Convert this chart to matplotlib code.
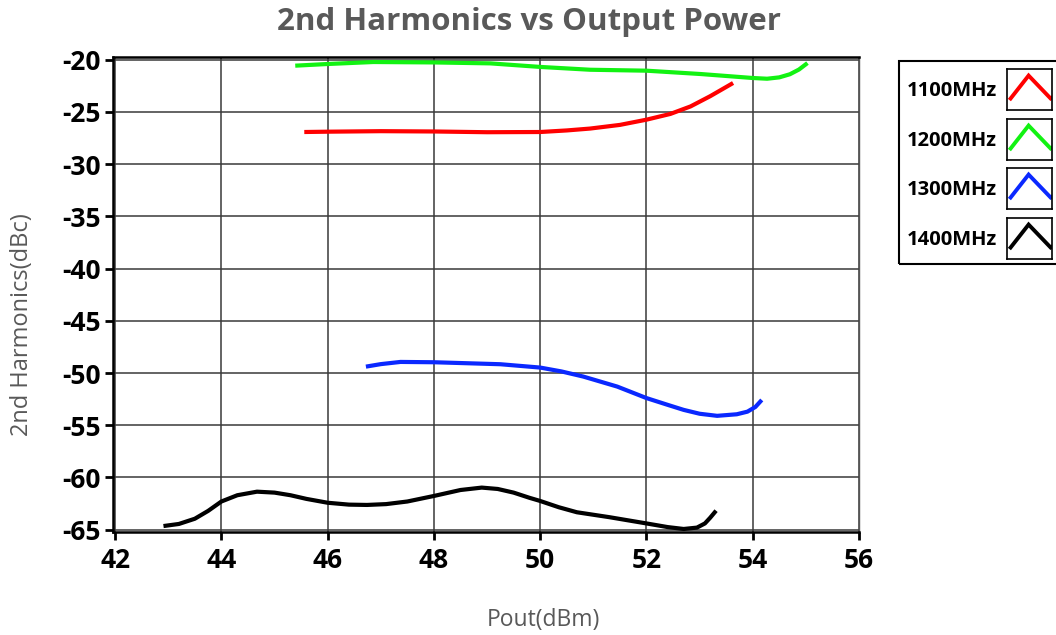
import matplotlib
matplotlib.use("Agg")
import matplotlib.pyplot as plt
from matplotlib.patches import Rectangle

# ---- data ----
labels = ["1100MHz", "1200MHz", "1300MHz", "1400MHz"]
colors = ["#ff0000", "#12f212", "#0a28ff", "#000000"]

x_1100 = [45.56, 46.0, 47.0, 48.0, 49.0, 50.0, 50.5, 50.94, 51.5, 52.0, 52.45, 52.83, 53.2, 53.63]
y_1100 = [-26.93, -26.9, -26.85, -26.88, -26.95, -26.93, -26.78, -26.6, -26.25, -25.75, -25.2, -24.48, -23.5, -22.24]

x_1200 = [45.39, 46.0, 46.86, 48.0, 49.06, 50.0, 50.94, 52.0, 53.02, 54.0, 54.27, 54.5, 54.7, 54.87, 55.03]
y_1200 = [-20.58, -20.42, -20.23, -20.27, -20.36, -20.7, -20.97, -21.06, -21.38, -21.76, -21.83, -21.7, -21.4, -20.95, -20.33]

x_1300 = [46.72, 47.0, 47.37, 48.0, 49.25, 50.0, 50.4, 50.81, 51.45, 52.0, 52.4, 52.7, 53.0, 53.33, 53.7, 53.9, 54.05, 54.17]
y_1300 = [-49.39, -49.15, -48.94, -48.97, -49.16, -49.48, -49.85, -50.34, -51.3, -52.4, -53.05, -53.53, -53.9, -54.1, -53.95, -53.7, -53.25, -52.58]

x_1400 = [42.91, 43.2, 43.5, 43.75, 44.0, 44.3, 44.67, 45.0, 45.3, 45.6, 46.0, 46.4, 46.74, 47.1, 47.5, 48.0, 48.5, 48.9, 49.2, 49.5, 49.8, 50.0, 50.35, 50.69, 51.3, 52.0, 52.4, 52.7, 52.95, 53.1, 53.2, 53.31]
y_1400 = [-64.65, -64.45, -63.95, -63.2, -62.3, -61.7, -61.36, -61.45, -61.7, -62.05, -62.42, -62.6, -62.63, -62.55, -62.3, -61.77, -61.2, -60.97, -61.1, -61.45, -61.95, -62.25, -62.85, -63.33, -63.8, -64.4, -64.75, -64.93, -64.8, -64.4, -63.85, -63.18]

xs = [x_1100, x_1200, x_1300, x_1400]
ys = [y_1100, y_1200, y_1300, y_1400]

x_ticks = [42, 44, 46, 48, 50, 52, 54, 56]
y_ticks = [-20, -25, -30, -35, -40, -45, -50, -55, -60, -65]

title = "2nd Harmonics vs Output Power"
xlabel = "Pout(dBm)"
ylabel = "2nd Harmonics(dBc)"

# ---- figure ----
plt.rcParams["font.family"] = ["Open Sans", "DejaVu Sans"]
fig = plt.figure(figsize=(10.56, 6.35), dpi=100)
W, H = 1056, 635
ax = fig.add_axes([113 / W, (H - 532) / H, (859 - 113) / W, (532 - 57) / H])

for x, y, c in zip(xs, ys, colors):
    ax.plot(x, y, color=c, lw=3.0, solid_capstyle="butt", solid_joinstyle="round", zorder=3)

ax.set_xlim(41.96, 56.0)
ax.set_ylim(-65.22, -19.75)
ax.set_xticks(x_ticks)
ax.set_yticks(y_ticks)
ax.set_xticklabels([str(t) for t in x_ticks], fontsize=19, fontweight="bold")
ax.set_yticklabels([str(t) for t in y_ticks], fontsize=19, fontweight="bold")
ax.tick_params(axis="both", direction="out", length=6, width=2, color="black", pad=3)
ax.tick_params(axis="x", pad=5)
ax.grid(True, color="#3a3a3a", lw=1.3, alpha=0.85)
ax.set_axisbelow(True)
for s in ax.spines.values():
    s.set_linewidth(1.8)
    s.set_color("black")
ax.spines["right"].set_linewidth(1.0)
ax.spines["right"].set_color("#555555")

fig.text(529 / W, 1 - 22 / H, title, ha="center", va="center", fontsize=22.5,
         fontweight="bold", color="#595959")
fig.text(543 / W, 1 - 620 / H, xlabel, ha="center", va="center", fontsize=16.5, color="#595959")
fig.text(22 / W, 1 - 325 / H, ylabel, ha="center", va="center", fontsize=17,
         color="#595959", rotation=90)

# ---- legend ----
fig.patches.append(Rectangle((899 / W, 1 - 264 / H), 200 / W, (264 - 61) / H,
                             transform=fig.transFigure, fill=False, ec="black", lw=1.5,
                             clip_on=False))
tops = [69, 119, 168, 218]
for lab, c, t in zip(labels, colors, tops):
    fig.text(907 / W, 1 - (t + 22) / H, lab, ha="left", va="center", fontsize=14.5,
             fontweight="bold", color="black")
    lax = fig.add_axes([1007 / W, 1 - (t + 41) / H, 45 / W, 41 / H])
    lax.plot([0.08, 0.48, 0.97, 1.0], [0.28, 0.84, 0.28, 0.3], color=c, lw=2.8,
             solid_joinstyle="miter")
    lax.set_xlim(0, 1)
    lax.set_ylim(0, 1)
    lax.set_xticks([])
    lax.set_yticks([])
    for s in lax.spines.values():
        s.set_linewidth(1.2)
        s.set_color("black")

fig.savefig("out.png", dpi=100)
